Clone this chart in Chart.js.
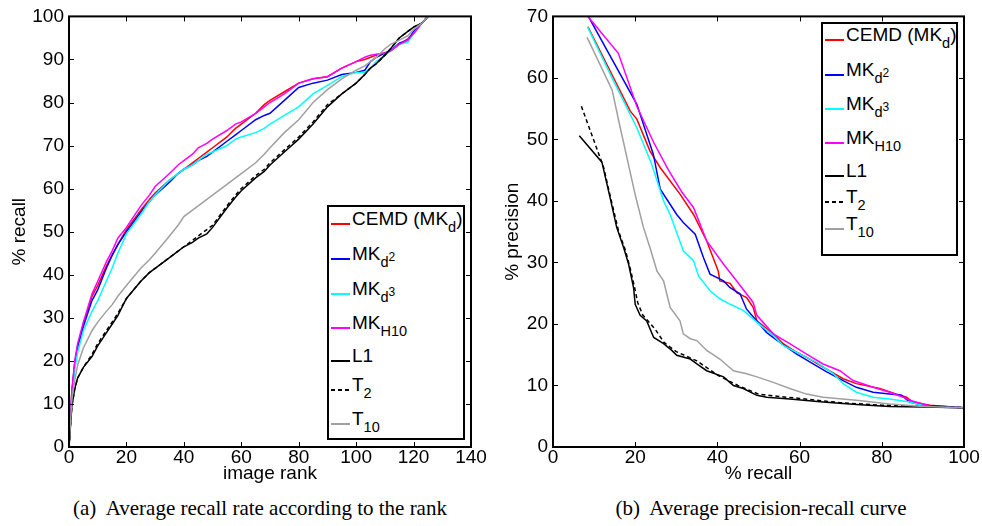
<!DOCTYPE html>
<html>
<head>
<meta charset="utf-8">
<script src="https://cdn.jsdelivr.net/npm/chart.js@4.4.1/dist/chart.umd.min.js"></script>
<style>
    body {
        margin: 0;
        width: 982px;
        height: 526px;
        position: relative;
        overflow: hidden;
        background: #fff;
        font-family: "Liberation Sans", Arial, sans-serif;
        color: #000;
    }
    .panel { position: absolute; top: 0; height: 490px; }
    #panelA { left: 0; width: 490px; }
    #panelB { left: 490px; width: 492px; }
    canvas { display: block; }
    .legend {
        position: absolute;
        background: #fff;
        border: 2px solid #000;
        box-sizing: border-box;
    }
    .swatch { position: absolute; width: 19px; height: 2px; }
    .swatch.dash { background: repeating-linear-gradient(90deg, #000 0 4px, transparent 4px 7px) !important; }
    .label { position: absolute; font-size: 19px; line-height: 19px; white-space: nowrap; }
    .sb { font-size: 14.5px; position: relative; top: 7px; }
    .sp { font-size: 12px; position: relative; top: -6px; }
    .caption {
        position: absolute;
        top: 498px;
        font-family: "Liberation Serif", "Times New Roman", serif;
        font-size: 21px;
        line-height: 21px;
        white-space: pre;
        transform: translateX(-50%);
    }
</style>
</head>
<body>
<div class="panel" id="panelA"><canvas id="chartA" width="490" height="490"></canvas></div>
<div class="panel" id="panelB"><canvas id="chartB" width="492" height="490"></canvas></div>
<div class="legend" id="legendA" style="left:327px; top:205px; width:138px; height:235px;"></div>
<div class="legend" id="legendB" style="left:821px; top:22px; width:137px; height:234px;"></div>
<div class="caption" style="left:260px;">(a)  Average recall rate according to the rank</div>
<div class="caption" style="left:761px;">(b)  Average precision-recall curve</div>

<script>
// ---- series (legend order) ----
const seriesLabels = [
    'CEMD (MK<span class="sb">d</span>)',
    'MK<span class="sb">d<span class="sp">2</span></span>',
    'MK<span class="sb">d<span class="sp">3</span></span>',
    'MK<span class="sb">H10</span>',
    'L1',
    'T<span class="sb">2</span>',
    'T<span class="sb">10</span>'
];
const seriesColors = ['#ff0000', '#0000ff', '#00ffff', '#ff00ff', '#000000', '#000000', '#a0a0a0'];
const seriesDashed = [false, false, false, false, false, true, false];

// ---- (a) recall vs image rank ----
const ranks = [0, 1, 2, 3, 5, 8, 10, 13, 15, 17, 20, 25, 28, 30, 35, 38, 40, 43, 45, 48, 50,
    55, 58, 60, 65, 68, 70, 75, 80, 85, 90, 95, 100, 103, 105, 107, 110, 112, 115, 118, 120, 123, 125];
const recallCEMD = [0, 13, 19.5, 23.5, 28.5, 35, 37.5, 42, 44.5, 47, 50.5, 55, 57.5, 59, 62, 63.5, 64.5, 66, 67, 68.5, 69.5,
    72, 74, 75, 77.5, 79.5, 80.5, 82.5, 84.5, 85.5, 86, 88, 89.5, 90, 90.5, 91, 91.5, 92, 93.5, 94.8, 96, 98.5, 100];
const recallMKd2 = [0, 12.5, 19, 23, 28, 34, 36.5, 41.5, 44.5, 47, 50, 54.5, 57, 58.5, 61.5, 63.5, 64.5, 65.5, 66.5, 67.5, 68.5,
    71, 72.5, 73.5, 76, 77, 77.5, 80.5, 83.5, 84.5, 85.2, 86.5, 87, 87.5, 89.5, 90.5, 91.5, 92, 93.8, 94.5, 96.5, 98.5, 100];
const recallMKd3 = [0, 12, 18, 22, 27, 31.5, 34, 38.5, 41.5, 45, 49.5, 54, 57, 58.5, 62, 63.5, 64.5, 65.5, 66.5, 68, 68.5,
    70, 71.5, 72, 73, 74, 75, 77, 79, 82, 84, 86, 87, 87, 88, 89.5, 91, 92, 93.5, 94, 96, 98.5, 100];
const recallMKH10 = [0, 13, 20, 24, 29, 35.5, 38.5, 43, 45.5, 48.5, 51, 56, 58.5, 60.5, 63.5, 65.5, 66.5, 68, 69.5, 70.5, 71.5,
    73.5, 75, 75.5, 77.5, 79, 80, 82, 84.5, 85.5, 86, 88, 89.5, 90.5, 91, 91.2, 91.5, 92, 93.5, 94.5, 96, 98.5, 100];
const recallL1 = [0, 9.5, 13.5, 16, 18.5, 21, 23.5, 26.5, 28.5, 30.5, 34.5, 38.5, 40.5, 41.5, 44, 45.5, 46.5, 47.5, 48.5, 49.5, 51,
    55.5, 58, 59.5, 62.5, 64, 65.5, 68.5, 71.5, 75, 79, 82, 84.5, 86.5, 88, 89, 91, 92.5, 95, 96.5, 97.5, 98.5, 100];
const recallT2 = [0, 9.5, 13.5, 16, 18.5, 21.5, 24, 27, 29, 31, 34.5, 38.5, 40.5, 41.5, 44, 45.5, 46.5, 48, 49, 50.5, 51.5,
    56, 58.5, 60, 63, 64.5, 66, 69, 72, 75.5, 79.5, 82, 84.5, 86.5, 88, 89, 91, 92.5, 95, 96.5, 97.5, 98.5, 100];
const recallT10 = [0, 11, 15.5, 19, 23, 27, 29, 31.5, 33, 35, 37.5, 41.5, 43.5, 45, 49, 51.5, 53.5, 55, 56, 57.5, 58.5,
    61, 62.5, 63.5, 66, 68, 69.5, 73, 76, 80, 83, 85.5, 87.5, 88.5, 89.5, 90.5, 92.5, 93.5, 94.5, 95.5, 97, 98.5, 100];

const rankTicks = [0, 20, 40, 60, 80, 100, 120, 140];
const recallTicks = [0, 10, 20, 30, 40, 50, 60, 70, 80, 90, 100];

// ---- (b) precision vs recall ----
const prRecallCEMD = [8.5, 14, 18.8, 20.4, 23.6, 26.1, 30.9, 34.2, 37.4, 40.2, 40.6, 43.1, 44.7, 47.1, 48.7, 49.6, 53.6, 56,
    59.3, 62.5, 65.7, 70.6, 73.8, 79.5, 83.6, 86, 87.6, 91.7, 100];
const prPrecCEMD = [68.3, 61, 54.6, 53.3, 48.1, 45.4, 41.1, 37.8, 33.5, 28.6, 27, 26.6, 25.1, 24.3, 22.7, 20.5, 18.4, 16.8,
    15.4, 14.3, 13, 11.1, 10.3, 9.5, 8.6, 8.1, 7.3, 6.8, 6.4];
const prRecallMKd2 = [8.6, 20.4, 24.4, 26.1, 30.1, 31.7, 34.6, 36.6, 38.2, 41.5, 43.1, 45.5, 47.1, 49.6, 52, 55.2, 59.3, 63.3,
    66.6, 70.6, 73.8, 77.9, 81.9, 84.8, 86.8, 90, 100];
const prPrecMKd2 = [70, 55.7, 47.6, 41.9, 37.8, 36.5, 34.6, 30.8, 28.1, 27, 25.9, 24.9, 22.4, 20.5, 18.6, 17, 15.1, 13.5,
    12.2, 10.8, 9.7, 8.9, 8.6, 8.4, 7.3, 6.8, 6.4];
const prRecallMKd3 = [8.4, 14, 20.4, 24, 26.9, 28.5, 31.7, 34.2, 35.4, 38.2, 40.6, 43.1, 46.3, 49.6, 53.6, 56, 60.1, 64.1,
    68.2, 70.6, 73.8, 77.9, 81.9, 86.8, 91.7, 100];
const prPrecMKd3 = [68.3, 60.5, 51.9, 46, 40, 37.8, 31.9, 30.3, 27.8, 25.4, 24.1, 23.2, 22.2, 20.3, 18.1, 16.5, 15.1, 13.8,
    11.9, 10.3, 8.9, 8.1, 7.8, 7.3, 6.5, 6.4];
const prRecallMKH10 = [8.5, 15.9, 20.4, 24.5, 28.1, 31.3, 34.2, 37.4, 41.5, 44.7, 48.7, 49.6, 53.6, 57.6, 61.7, 65.7, 69.8,
    73, 77.9, 81.9, 85.2, 86.8, 90, 92.5, 100];
const prPrecMKH10 = [70, 64, 55.4, 49.5, 45, 41.5, 38.9, 33.5, 29.7, 27, 23.5, 21.4, 18.4, 16.8, 15.1, 13.5, 12.4,
    10.8, 9.7, 8.9, 8.1, 7.6, 7, 6.5, 6.4];
const prRecallL1 = [6.4, 11.9, 13.9, 15.5, 17.2, 18.4, 19.6, 20, 21.2, 22.8, 24.5, 26.9, 28.9, 30.1, 33.4, 35, 37.4, 41.5,
    43.9, 46.3, 49.6, 52, 57.6, 65.7, 73.8, 81.9, 90, 100];
const prPrecL1 = [50.6, 46.3, 40.5, 35.7, 32.4, 29.7, 25.9, 23.2, 21.4, 20.5, 17.8, 16.8, 15.7, 14.9, 14.3, 13.5, 12.4, 11.4,
    10, 9.5, 8.4, 8.1, 7.8, 7.3, 6.9, 6.6, 6.5, 6.4];
const prRecallT2 = [6.9, 12.3, 14.2, 16, 17.6, 18.8, 20, 20.6, 21.8, 23.5, 25, 27, 30, 35, 40, 45, 50, 55, 60, 70, 80, 90, 100];
const prPrecT2 = [55.4, 45.5, 40, 35, 32, 29, 25.5, 23.5, 21.5, 20.2, 19, 17, 15.5, 14, 11.7, 10, 8.6, 8.2, 7.9, 7.2, 6.8, 6.6, 6.4];
const prRecallT10 = [8.3, 14.4, 16, 18, 20, 22, 23.6, 25.3, 26.9, 28.5, 30.9, 31.7, 33.4, 35, 37.4, 40.6, 43.9, 47.1, 49.6,
    53.6, 57.6, 61.7, 65.7, 73.8, 81.9, 90, 100];
const prPrecT10 = [66.6, 58, 53, 47, 41, 35.7, 32.4, 28.6, 27, 22.7, 20.5, 18.4, 17.6, 17.3, 15.7, 14.3, 12.4, 11.9, 11.4,
    10.5, 9.5, 8.6, 8.1, 7.6, 7, 6.6, 6.4];

const prRecallTicks = [0, 20, 40, 60, 80, 100];
const precisionTicks = [0, 10, 20, 30, 40, 50, 60, 70];

const FONT = { family: "'Liberation Sans', Arial, sans-serif", size: 19 };

// box round the plot area with MATLAB-style inward ticks on all four sides
const boxPlugin = {
    id: 'matlabBox',
    afterDraw(chart) {
        const { ctx, chartArea: a, scales } = chart;
        const len = 5;
        ctx.save();
        ctx.strokeStyle = '#000';
        ctx.lineWidth = 1;
        ctx.beginPath();
        scales.x.ticks.forEach(t => {
            const px = Math.round(scales.x.getPixelForValue(t.value)) + 0.5;
            ctx.moveTo(px, a.bottom); ctx.lineTo(px, a.bottom - len);
            ctx.moveTo(px, a.top); ctx.lineTo(px, a.top + len);
        });
        scales.y.ticks.forEach(t => {
            const py = Math.round(scales.y.getPixelForValue(t.value)) + 0.5;
            ctx.moveTo(a.left, py); ctx.lineTo(a.left + len, py);
            ctx.moveTo(a.right, py); ctx.lineTo(a.right - len, py);
        });
        ctx.stroke();
        ctx.lineWidth = 2;
        ctx.strokeRect(a.left, a.top, a.right - a.left, a.bottom - a.top);
        ctx.restore();
    }
};

function makeDataset(i, xs, ys) {
    return {
        label: seriesLabels[i].replace(/<[^>]+>/g, ''),
        data: xs.map((x, k) => ({ x: x, y: ys[k] })),
        borderColor: seriesColors[i],
        borderWidth: 1.5,
        borderDash: seriesDashed[i] ? [4, 3] : [],
        pointRadius: 0,
        tension: 0,
        fill: false,
        order: seriesLabels.length - 1 - i
    };
}

function makeChart(canvasId, datasets, cfg) {
    return new Chart(document.getElementById(canvasId), {
        type: 'line',
        data: { datasets: datasets },
        options: {
            responsive: false,
            animation: false,
            layout: { padding: { top: 15, right: cfg.padRight, left: 0, bottom: 0 } },
            plugins: { legend: { display: false }, tooltip: { enabled: false } },
            scales: {
                x: {
                    type: 'linear',
                    min: cfg.xTicks[0],
                    max: cfg.xTicks[cfg.xTicks.length - 1],
                    afterBuildTicks: s => { s.ticks = cfg.xTicks.map(v => ({ value: v })); },
                    afterFit: s => { s.height = 43; },
                    grid: { display: false, drawTicks: false },
                    border: { display: false },
                    ticks: { color: '#000', font: FONT, padding: -1, maxRotation: 0 },
                    title: { display: true, text: cfg.xTitle, color: '#000', font: FONT, padding: { top: 0, bottom: 5 } }
                },
                y: {
                    type: 'linear',
                    min: cfg.yTicks[0],
                    max: cfg.yTicks[cfg.yTicks.length - 1],
                    afterBuildTicks: s => { s.ticks = cfg.yTicks.map(v => ({ value: v })); },
                    afterFit: s => { s.width = cfg.yWidth; },
                    grid: { display: false, drawTicks: false },
                    border: { display: false },
                    ticks: { color: '#000', font: FONT, padding: 5 },
                    title: { display: true, text: cfg.yTitle, color: '#000', font: FONT, padding: { top: cfg.yTitlePad, bottom: 0 } }
                }
            }
        },
        plugins: [boxPlugin]
    });
}

const recallSeries = [recallCEMD, recallMKd2, recallMKd3, recallMKH10, recallL1, recallT2, recallT10];
makeChart('chartA', recallSeries.map((ys, i) => makeDataset(i, ranks, ys)), {
    xTicks: rankTicks, yTicks: recallTicks, padRight: 19, yWidth: 69, yTitlePad: 8,
    xTitle: 'image rank', yTitle: '% recall'
});

const prX = [prRecallCEMD, prRecallMKd2, prRecallMKd3, prRecallMKH10, prRecallL1, prRecallT2, prRecallT10];
const prY = [prPrecCEMD, prPrecMKd2, prPrecMKd3, prPrecMKH10, prPrecL1, prPrecT2, prPrecT10];
makeChart('chartB', prX.map((xs, i) => makeDataset(i, xs, prY[i])), {
    xTicks: prRecallTicks, yTicks: precisionTicks, padRight: 18, yWidth: 63, yTitlePad: 11,
    xTitle: '% recall', yTitle: '% precision'
});

// HTML legends, so the sub/superscripts stay real text
function buildLegend(id, rows) {
    const box = document.getElementById(id);
    seriesLabels.forEach((html, i) => {
        const sw = document.createElement('div');
        sw.className = 'swatch' + (seriesDashed[i] ? ' dash' : '');
        sw.style.left = '2px';
        sw.style.top = (rows[i] - 3) + 'px';
        sw.style.background = seriesColors[i];
        box.appendChild(sw);
        const lb = document.createElement('div');
        lb.className = 'label';
        lb.style.left = '23px';
        lb.style.top = (rows[i] - 17) + 'px';
        lb.innerHTML = html;
        box.appendChild(lb);
    });
}
buildLegend('legendA', [19, 54, 89, 123, 156, 185, 219]);
buildLegend('legendB', [18, 53, 87, 121, 154, 180, 207]);
</script>
</body>
</html>
